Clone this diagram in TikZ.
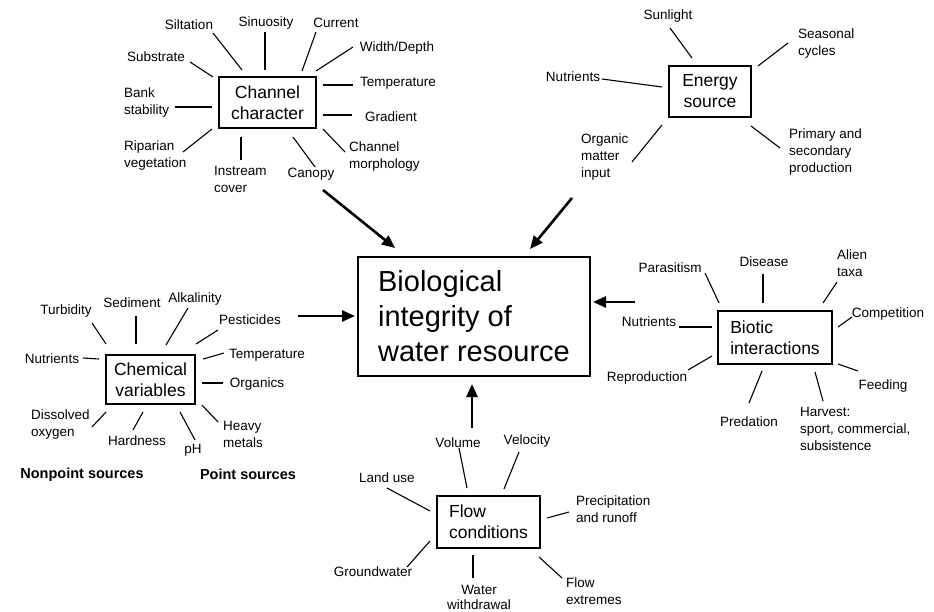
\documentclass[tikz,border=0pt]{standalone}
\usepackage{fontspec}
\setmainfont{Liberation Sans}
\usetikzlibrary{arrows.meta}
\newcommand\labfont{\fontsize{13.5}{17}\selectfont}
\newcommand\boxfont{\fontsize{17.5}{21}\selectfont}
\newcommand\mainfont{\fontsize{29}{35}\selectfont}
\newcommand\srcfont{\fontsize{14.5}{17}\selectfont\bfseries}
\newcommand\spk[3]{\coordinate (#1a) at (#2); \coordinate (#1b) at (#3); \draw[spoke] (#1a) -- (#1b);}
\newcommand\bigarr[3]{\coordinate (#1a) at (#2); \coordinate (#1b) at (#3); \draw[bigarrow] (#1a) -- (#1b);}
\begin{document}
\begin{tikzpicture}[x=1pt,y=-1pt,
  lab/.style={font=\labfont, inner sep=0pt},
  mlab/.style={font=\labfont, inner sep=0pt, anchor=west, align=left},
  factor/.style={draw, line width=1.1pt, font=\boxfont, inner sep=0pt, align=center},
  spoke/.style={line width=1.1pt},
  bigarrow/.style={line width=2.6pt, -{Triangle[length=13pt,width=11pt]}}]
\useasboundingbox[fill=white] (0,0) rectangle (934,612);

% central box
\node[draw, line width=1.1pt, font=\mainfont, align=left, inner sep=0pt,
  minimum width=232pt, minimum height=119pt] (bio) at (474,316.5)
  {Biological\\integrity of\\water resource};

% ---------------- Channel character ----------------
\node[factor, minimum width=97pt, minimum height=51pt] (chan) at (267.5,102.5) {Channel\\character};
\node[lab] (silt) at (189,25) {Siltation};
\node[lab] (sinu) at (266,23) {Sinuosity};
\node[lab] (curr) at (336,23) {Current};
\node[lab] (widt) at (397,48) {Width/Depth};
\node[lab] (subs) at (156,57) {Substrate};
\node[lab] (tempc) at (398,83) {Temperature};
\node[mlab] (bank) at (124,103) {Bank\\stability};
\node[lab] (grad) at (391,117) {Gradient};
\node[mlab] (ripa) at (124,156) {Riparian\\vegetation};
\node[mlab] (inst) at (214,179) {Instream\\cover};
\node[lab] (cano) at (311,174) {Canopy};
\node[mlab] (morp) at (349,157) {Channel\\morphology};
\spk{c1}{213,33}{242,70}
\spk{c2}{265,32}{265,70}
\spk{c3}{316,32}{302,71}
\spk{c4}{353,47}{316,71}
\spk{c5}{190,62}{213,77}
\spk{c6}{323,85}{353,85}
\spk{c7}{175,107}{212,107}
\spk{c8}{323,115}{352,115}
\spk{c9}{183,152}{212,129}
\spk{c10}{241,137}{241,160}
\spk{c11}{293,137}{315,167}
\spk{c12}{323,129}{345,152}

% ---------------- Energy source ----------------
\node[factor, minimum width=82pt, minimum height=51pt] (ener) at (710,91.5) {Energy\\source};
\node[lab] (sunl) at (668,16) {Sunlight};
\node[mlab] (seas) at (798,43.5) {Seasonal\\cycles};
\node[lab] (nute) at (573,77) {Nutrients};
\node[mlab] (orga) at (581,157) {Organic\\matter\\input};
\node[mlab] (prim) at (789,152) {Primary and\\secondary\\production};
\spk{e1}{670,28}{692,58}
\spk{e2}{788,43}{758,66}
\spk{e3}{602,79}{662,87}
\spk{e4}{632,162}{662,125}
\spk{e5}{751,126}{780,148}

% ---------------- Chemical variables ----------------
\node[factor, minimum width=89pt, minimum height=49pt] (chem) at (150.5,379.5) {Chemical\\variables};
\node[lab] (turb) at (66,311) {Turbidity};
\node[lab] (sedi) at (132,303) {Sediment};
\node[lab] (alka) at (195,299) {Alkalinity};
\node[lab] (pest) at (250,320) {Pesticides};
\node[lab] (nutc) at (52,359) {Nutrients};
\node[lab] (temh) at (267,355) {Temperature};
\node[lab] (orgs) at (257,384) {Organics};
\node[mlab] (diss) at (31,425) {Dissolved\\oxygen};
\node[lab] (hard) at (137,441) {Hardness};
\node[lab] (ph) at (193,450) {pH};
\node[mlab] (heav) at (223,434.5) {Heavy\\metals};
\node[font=\srcfont, inner sep=0pt] (nonp) at (82,475) {Nonpoint sources};
\node[font=\srcfont, inner sep=0pt] (poin) at (248,474) {Point sources};
\spk{h1}{92,323}{106,344}
\spk{h2}{136,316}{136,344}
\spk{h3}{188,308}{166,345}
\spk{h4}{218,330}{196,344}
\spk{h5}{83,358}{99,359}
\spk{h6}{224,353}{203,359}
\spk{h7}{202,383}{223,383}
\spk{h8}{92,427}{106,412}
\spk{h9}{133,430}{143,412}
\spk{h10}{195,440}{180,412}
\spk{h11}{218,422}{202,405}

% ---------------- Biotic interactions ----------------
\node[draw, line width=1.1pt, font=\boxfont, inner sep=0pt, align=left,
  minimum width=114pt, minimum height=53pt] (biot) at (775,337.5) {Biotic\\interactions};
\node[lab] (para) at (670,268) {Parasitism};
\node[lab] (dise) at (764,262) {Disease};
\node[mlab] (alie) at (837,263) {Alien\\taxa};
\node[lab] (comp) at (888,314) {Competition};
\node[lab] (nutb) at (649,322) {Nutrients};
\node[lab] (repr) at (647,378) {Reproduction};
\node[lab] (feed) at (883,386) {Feeding};
\node[lab] (pred) at (749,422) {Predation};
\node[mlab] (harv) at (800,429) {Harvest:\\sport, commercial,\\subsistence};
\spk{b1}{705,273}{719,303}
\spk{b2}{763,274}{763,303}
\spk{b3}{837,282}{823,303}
\spk{b4}{852,317}{838,327}
\spk{b5}{679,327}{712,327}
\spk{b6}{688,370}{712,356}
\spk{b7}{838,364}{858,371}
\spk{b8}{749,403}{762,371}
\spk{b9}{815,372}{823,401}

% ---------------- Flow conditions ----------------
\node[draw, line width=1.1pt, font=\boxfont, inner sep=0pt, align=left,
  minimum width=103pt, minimum height=52pt] (flow) at (488.5,522) {Flow\\conditions};
\node[lab] (volu) at (458,443) {Volume};
\node[lab] (velo) at (527,441) {Velocity};
\node[lab] (land) at (387,478) {Land use};
\node[mlab] (prec) at (576,509.5) {Precipitation\\and runoff};
\node[lab] (grou) at (373,572) {Groundwater};
\node[font=\fontsize{13.5}{15}\selectfont, inner sep=0pt, align=center] (with) at (479,597.5) {Water\\withdrawal};
\node[mlab] (extr) at (566,591.5) {Flow\\extremes};
\spk{f1}{459,448}{467,488}
\spk{f2}{519,452}{504,489}
\spk{f3}{387,488}{430,511}
\spk{f4}{569,512}{547,518}
\spk{f5}{407,567}{430,541}
\spk{f6}{473,555}{473,578}
\spk{f7}{539,557}{562,578}

% ---------------- main arrows ----------------
\bigarr{m1}{323,190}{395,248}
\bigarr{m2}{572,198}{530,249}
\bigarr{m3}{298,316}{355,316}
\bigarr{m4}{635,302}{593,302}
\bigarr{m5}{472,428}{472,384}
\end{tikzpicture}
\end{document}
